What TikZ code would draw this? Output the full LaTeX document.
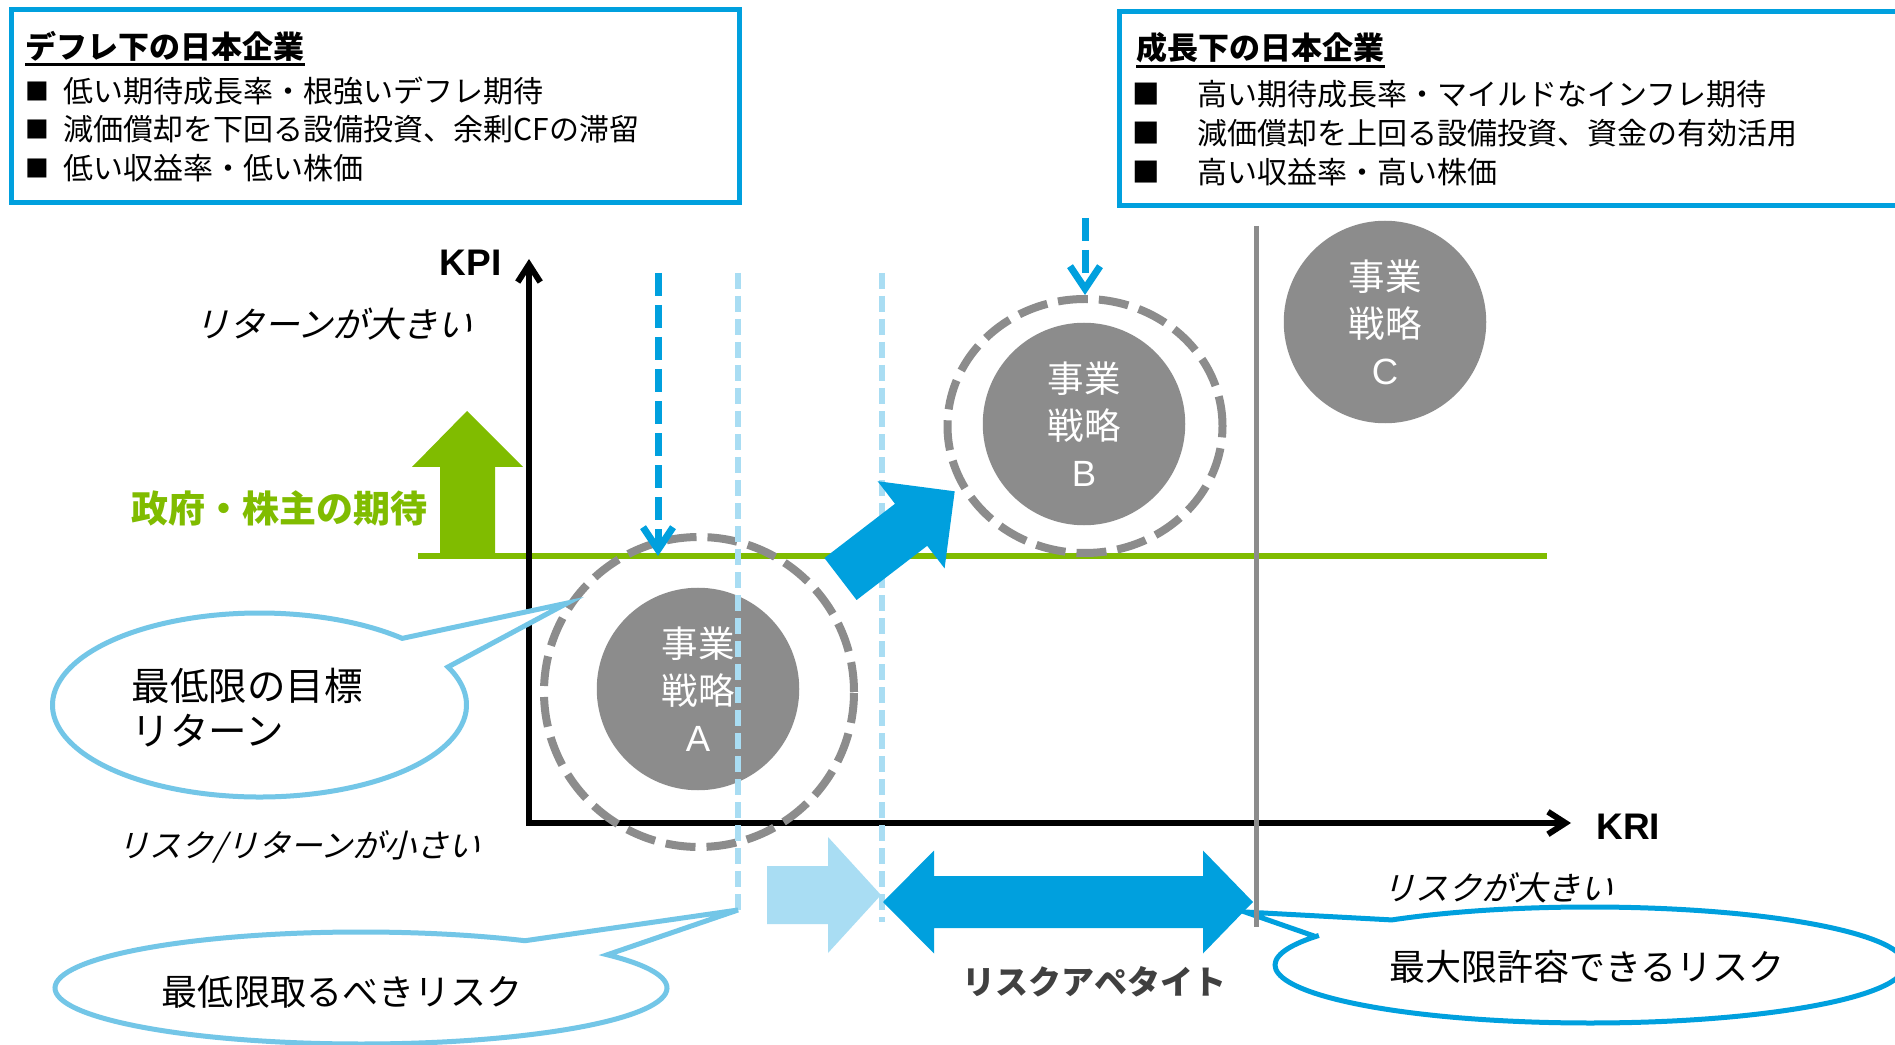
\documentclass[tikz,border=0pt]{standalone}
\usepackage{fontspec}
\setmainfont{Noto Sans CJK JP}
\newfontfamily\jpit[FakeSlant=0.25]{Noto Sans CJK JP}
\newfontfamily\lat{Liberation Sans}
\usetikzlibrary{arrows.meta,shapes.geometric,calc}
\definecolor{cblue}{RGB}{0,160,222}
\definecolor{clight}{RGB}{169,221,243}
\definecolor{ccall}{RGB}{115,198,231}
\definecolor{cgreen}{RGB}{128,188,0}
\definecolor{cgray}{RGB}{140,140,140}
\definecolor{cdark}{RGB}{64,64,64}
\begin{document}
\begin{tikzpicture}[x=0.4pt,y=-0.4pt,
  boxline/.style={draw=cblue, line width=2pt},
  boxtitle/.style={font=\bfseries\fontsize{12.4pt}{14pt}\selectfont, anchor=west, inner sep=0pt},
  boxtext/.style={font=\fontsize{12pt}{14pt}\selectfont, anchor=west, inner sep=0pt},
  bulletl/.style={font=\fontsize{9.5pt}{12pt}\selectfont, inner sep=0pt},
  bulletr/.style={font=\fontsize{11pt}{12pt}\selectfont, inner sep=0pt},
  uline/.style={line width=1pt},
  fillc/.style={circle, fill=cgray, minimum size=81pt, inner sep=0pt, text=white, align=center,
    font=\fontsize{14.6pt}{18.8pt}\selectfont},
  ringc/.style={ellipse, draw=cgray, line width=3.2pt, dash pattern=on 12pt off 4.4pt, inner sep=0pt},
  bluedash/.style={draw=cblue, line width=2.8pt, dash pattern=on 9.2pt off 3.6pt,
    -{Straight Barb[length=9pt,width=12pt]}},
  lightdash/.style={draw=clight, line width=2.2pt, dash pattern=on 6.4pt off 2.8pt},
  axis/.style={draw=black, line width=2.4pt,
    {Straight Barb[length=7pt,width=9pt]}-{Straight Barb[length=7pt,width=9pt]}},
  axlabel/.style={font=\lat\bfseries\fontsize{14.8pt}{16pt}\selectfont, inner sep=0pt},
  itext/.style={font=\jpit\fontsize{#1}{16pt}\selectfont, inner sep=0pt, anchor=west},
  calltext/.style={font=\fontsize{#1}{18pt}\selectfont, inner sep=0pt},
  calla/.style={draw=ccall, line width=2pt, fill=white},
  callb/.style={draw=cblue, line width=2pt, fill=white}
]
\useasboundingbox (0,0) rectangle (1895,1045);
\clip (0,0) rectangle (1895,1045);
\fill[white] (0,0) rectangle (1895,1045);

% ---------- top boxes ----------
\draw[boxline] (11,10) rectangle (739,203);
\node[boxtitle] (t1) at (25,46) {デフレ下の日本企業};
\draw[uline] ([yshift=-1.2pt]t1.south west) -- ([yshift=-1.2pt]t1.south east);
\node[bulletl] (b11) at (37.5,91.5) {■};
\node[bulletl] (b12) at (37.5,129.5) {■};
\node[bulletl] (b13) at (37.5,168) {■};
\node[boxtext] (l11) at (63,91.5) {低い期待成長率・根強いデフレ期待};
\node[boxtext] (l12) at (63,129.5) {減価償却を下回る設備投資、余剰CFの滞留};
\node[boxtext] (l13) at (63,168) {低い収益率・低い株価};

\draw[boxline] (1905,12) -- (1119.5,12) -- (1119.5,206) -- (1905,206);
\node[boxtitle] (t2) at (1136,48) {成長下の日本企業};
\draw[uline] ([yshift=-1.2pt]t2.south west) -- ([yshift=-1.2pt]t2.south east);
\node[bulletr] (b21) at (1146,94) {■};
\node[bulletr] (b22) at (1146,133) {■};
\node[bulletr] (b23) at (1146,172) {■};
\node[boxtext] (l21) at (1197,94) {高い期待成長率・マイルドなインフレ期待};
\node[boxtext] (l22) at (1197,133) {減価償却を上回る設備投資、資金の有効活用};
\node[boxtext] (l23) at (1197,172) {高い収益率・高い株価};

% ---------- green expectation line ----------
\coordinate (gL) at (418,556);
\coordinate (gR) at (1547,556);
\draw[cgreen, line width=2.4pt] (gL) -- (gR);
\fill[cgreen] (440,553) -- (440,467) -- (412,467) -- (467,411) -- (523,467) -- (495,467) -- (495,553) -- cycle;
\node[font=\bfseries\fontsize{14.8pt}{16pt}\selectfont, text=cgreen, inner sep=0pt, anchor=west] (expect) at (131,508) {政府・株主の期待};

% ---------- axes ----------
\coordinate (O) at (529,823);
\coordinate (ytop) at (529,259);
\coordinate (xend) at (1571,823);
\draw[axis] (ytop) -- (O) -- (xend);
\node[axlabel, anchor=east] (kpi) at (502,263) {KPI};
\node[axlabel, anchor=west] (kri) at (1596,827) {KRI};
\node[itext=14pt] (retbig) at (194,324) {リターンが大きい};
\node[itext=12.8pt] (rrsmall) at (117,847) {リスク/リターンが小さい};
\node[itext=13.2pt] (riskbig) at (1382,888) {リスクが大きい};

% ---------- strategy circles ----------
\node[fillc] (A) at (698,689) {事業\\戦略\\{\lat A}};
\node[fillc] (B) at (1084,424) {事業\\戦略\\{\lat B}};
\node[fillc] (C) at (1385,322) {事業\\戦略\\{\lat C}};
\node[ringc, minimum width=124pt, minimum height=124pt] (ringA) at (699,692) {};
\node[ringc, minimum width=110pt, minimum height=101.6pt] (ringB) at (1085,426) {};

% ---------- dashed guide lines ----------
\coordinate (l1t) at (738,273);
\coordinate (l1b) at (738,910);
\coordinate (l2t) at (882,273);
\coordinate (l2b) at (882,922);
\draw[lightdash] (l1t) -- (l1b);
\draw[lightdash] (l2t) -- (l2b);
\coordinate (pA) at (658,273);
\coordinate (pB) at (1085,218);
\draw[bluedash] (pA) -- (pA |- gL);
\draw[bluedash] (pB) -- (ringB.north);

% ---------- big arrows ----------
\fill[cblue] (824.4,558) -- (895,503.8) -- (877.6,481.2) -- (954.7,491.3) -- (944.6,568.4) -- (927.2,545.8) -- (856.6,600) -- cycle;
\fill[clight] (767,866) -- (828,866) -- (828,837) -- (881,895) -- (828,953) -- (828,924) -- (767,924) -- cycle;

% ---------- callouts ----------
\coordinate (c1) at (259.5,705);
\draw[calla] ($(c1)+(-46.4:207 and 92)$) -- (ringA.146) -- ($(c1)+(-24.4:207 and 92)$)
  arc[start angle=-24.4, end angle=313.6, x radius=207, y radius=92] -- cycle;
\node[calltext=15.4pt, anchor=west, align=left] (ct1) at (131,707.5) {最低限の目標\\リターン};

\coordinate (c2) at (361,988);
\draw[calla] ($(c2)+(-57.6:306 and 56)$) -- (l1b) -- ($(c2)+(-36.4:306 and 56)$)
  arc[start angle=-36.4, end angle=302.4, x radius=306, y radius=56] -- cycle;
\node[calltext=14.4pt] (ct2) at (342,992) {最低限取るべきリスク};

\coordinate (c3) at (1590,965);
\coordinate (c3tip) at (1245,912);
\draw[callb] ($(c3)+(-150.6:315 and 58)$) -- (c3tip) -- ($(c3)+(-129:315 and 58)$)
  arc[start angle=-129, end angle=210.6, x radius=315, y radius=58] -- cycle;
\node[calltext=14.4pt] (ct3) at (1587,967) {最大限許容できるリスク};

% ---------- risk appetite double arrow ----------
\fill[cblue] (883,902) -- (934,850.5) -- (934,876) -- (1203,876) -- (1203,850.5) -- (1253,902)
  -- (1203,953.5) -- (1203,928) -- (934,928) -- (934,953.5) -- cycle;
\node[font=\bfseries\fontsize{13.2pt}{15pt}\selectfont, text=cdark, inner sep=0pt] (appetite) at (1094.5,982) {リスクアペタイト};

% ---------- max risk line ----------
\coordinate (gtop) at (1256,226);
\coordinate (gbot) at (1256,927);
\draw[cgray, line width=2pt] (gtop) -- (gbot);
\end{tikzpicture}
\end{document}
